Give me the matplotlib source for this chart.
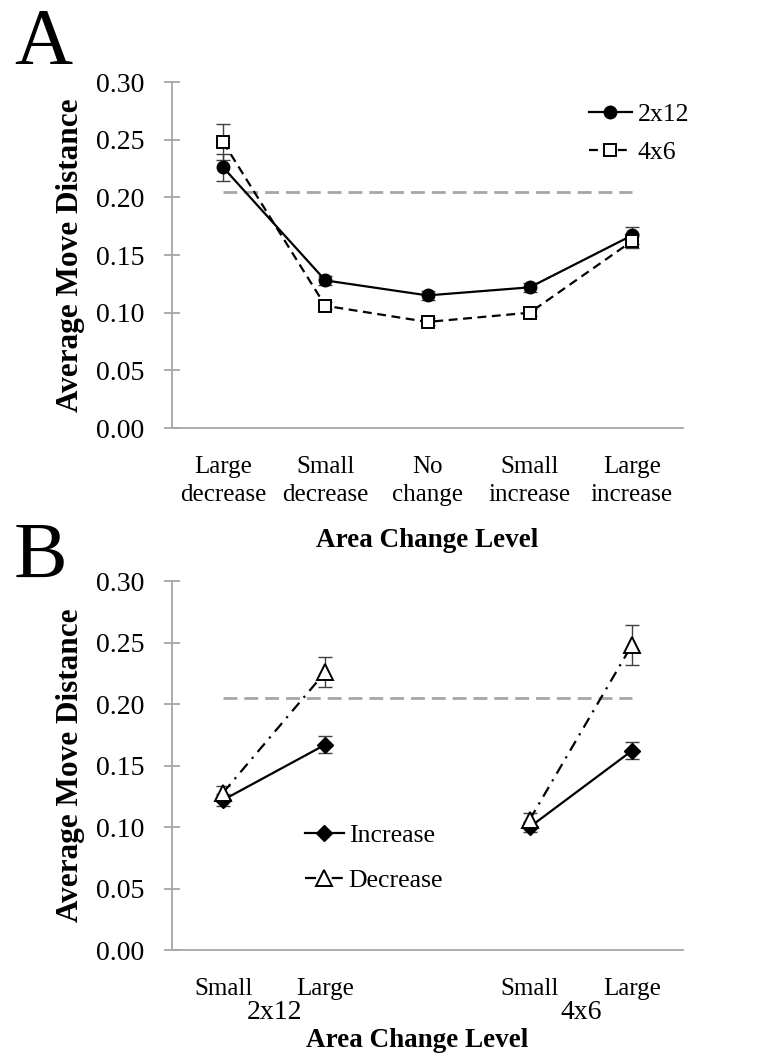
import matplotlib.pyplot as plt
from matplotlib.transforms import blended_transform_factory

plt.rcParams['font.family'] = ['Liberation Serif', 'DejaVu Serif']
plt.rcParams['font.size'] = 18

# panel A: move distance per area change level
levels = ['Large\ndecrease', 'Small\ndecrease', 'No\nchange', 'Small\nincrease', 'Large\nincrease']
a_2x12 = [0.226, 0.128, 0.115, 0.122, 0.167]
a_2x12_err = [0.012, 0.004, 0.004, 0.004, 0.007]
a_4x6 = [0.248, 0.106, 0.092, 0.100, 0.162]
a_4x6_err = [0.016, 0.003, 0.003, 0.003, 0.006]

# panel B: increase vs decrease, by grid
b_ticks = ['Small', 'Large', 'Small', 'Large']
b_groups = ['2x12', '4x6']
inc_2x12 = [0.122, 0.167]
inc_2x12_err = [0.005, 0.007]
inc_4x6 = [0.100, 0.162]
inc_4x6_err = [0.004, 0.007]
dec_2x12 = [0.128, 0.226]
dec_2x12_err = [0.005, 0.012]
dec_4x6 = [0.106, 0.248]
dec_4x6_err = [0.005, 0.016]

chance = 0.205

grey = '#a6a6a6'
ecol = '#404040'


def style_axes(ax):
    ax.set_ylim(0, 0.30)
    ax.set_xlim(0.5, 5.5)
    ax.set_yticks([0, 0.05, 0.10, 0.15, 0.20, 0.25, 0.30])
    ax.set_yticklabels(['%.2f' % v for v in ax.get_yticks()], fontsize=20)
    for s in ['top', 'right']:
        ax.spines[s].set_visible(False)
    for s in ['left', 'bottom']:
        ax.spines[s].set_color(grey)
        ax.spines[s].set_linewidth(1.3)
    ax.tick_params(axis='y', direction='inout', length=12, width=1.3, color=grey, pad=14)
    ax.tick_params(axis='x', length=0, pad=20)
    ax.set_ylabel('Average Move Distance', fontweight='bold', fontsize=22.5, labelpad=8)


fig = plt.figure(figsize=(7.69, 10.53), dpi=100)

# ---- A ----
ax1 = fig.add_axes([0.2237, 0.5935, 0.6645, 0.3286])
style_axes(ax1)
x = [1, 2, 3, 4, 5]
ax1.plot([1, 5], [chance, chance], color=grey, lw=2, ls=(0, (5, 2.5)), zorder=1)
ax1.errorbar(x, a_2x12, yerr=a_2x12_err, fmt='none', ecolor=ecol, elinewidth=1, capsize=5, zorder=2)
ax1.errorbar(x, a_4x6, yerr=a_4x6_err, fmt='none', ecolor=ecol, elinewidth=1, capsize=5, zorder=2)
ax1.plot(x, a_2x12, color='black', lw=1.6, marker='o', ms=9, mfc='black', label='2x12', zorder=3)
ax1.plot(x, a_4x6, color='black', lw=1.6, ls=(0, (4, 2.5)), marker='s', ms=9, mfc='white',
         mew=1.4, label='4x6', zorder=4)
ax1.set_xticks(x)
ax1.set_xticklabels(levels, linespacing=1.35)
ax1.set_xlabel('Area Change Level', fontweight='bold', fontsize=19.5, labelpad=16)
ax1.legend(loc='upper left', bbox_to_anchor=(0.77, 1.005), frameon=False, handlelength=1.7,
           handletextpad=0.2, labelspacing=0.55, fontsize=18.5)
fig.text(0.018, 0.992, 'A', fontsize=58, va='top')

# ---- B ----
ax2 = fig.add_axes([0.2237, 0.0978, 0.6645, 0.3504])
style_axes(ax2)
ax2.plot([1, 5], [chance, chance], color=grey, lw=2, ls=(0, (5, 2.5)), zorder=1)
g1 = [1, 2]
g2 = [4, 5]
dd = (0, (5, 3, 1, 3))
for xs, inc, inc_e, dec, dec_e in [(g1, inc_2x12, inc_2x12_err, dec_2x12, dec_2x12_err),
                                   (g2, inc_4x6, inc_4x6_err, dec_4x6, dec_4x6_err)]:
    ax2.errorbar(xs, inc, yerr=inc_e, fmt='none', ecolor=ecol, elinewidth=1, capsize=5, zorder=2)
    ax2.errorbar(xs, dec, yerr=dec_e, fmt='none', ecolor=ecol, elinewidth=1, capsize=5, zorder=2)
    ax2.plot(xs, inc, color='black', lw=1.6, marker='D', ms=8, mfc='black', zorder=3,
             label='Increase' if xs == g1 else None)
    ax2.plot(xs, dec, color='black', lw=1.6, ls=dd, marker='^', ms=11, mfc='white', mew=1.4,
             zorder=4, label='Decrease' if xs == g1 else None)
ax2.set_xticks(g1 + g2)
ax2.set_xticklabels(b_ticks)
trans = blended_transform_factory(ax2.transData, ax2.transAxes)
ax2.text(1.5, -0.168, b_groups[0], transform=trans, ha='center', va='center', fontsize=20)
ax2.text(4.5, -0.168, b_groups[1], transform=trans, ha='center', va='center', fontsize=20)
ax2.text(0.48, -0.245, 'Area Change Level', transform=ax2.transAxes, ha='center', va='center',
         fontweight='bold', fontsize=19.5)
ax2.legend(loc='upper left', bbox_to_anchor=(0.215, 0.405), frameon=False, handlelength=1.5,
           handletextpad=0.2, labelspacing=0.85, fontsize=18.5)
fig.text(0.018, 0.504, 'B', fontsize=58, va='top')

plt.savefig('out.png', dpi=100)
